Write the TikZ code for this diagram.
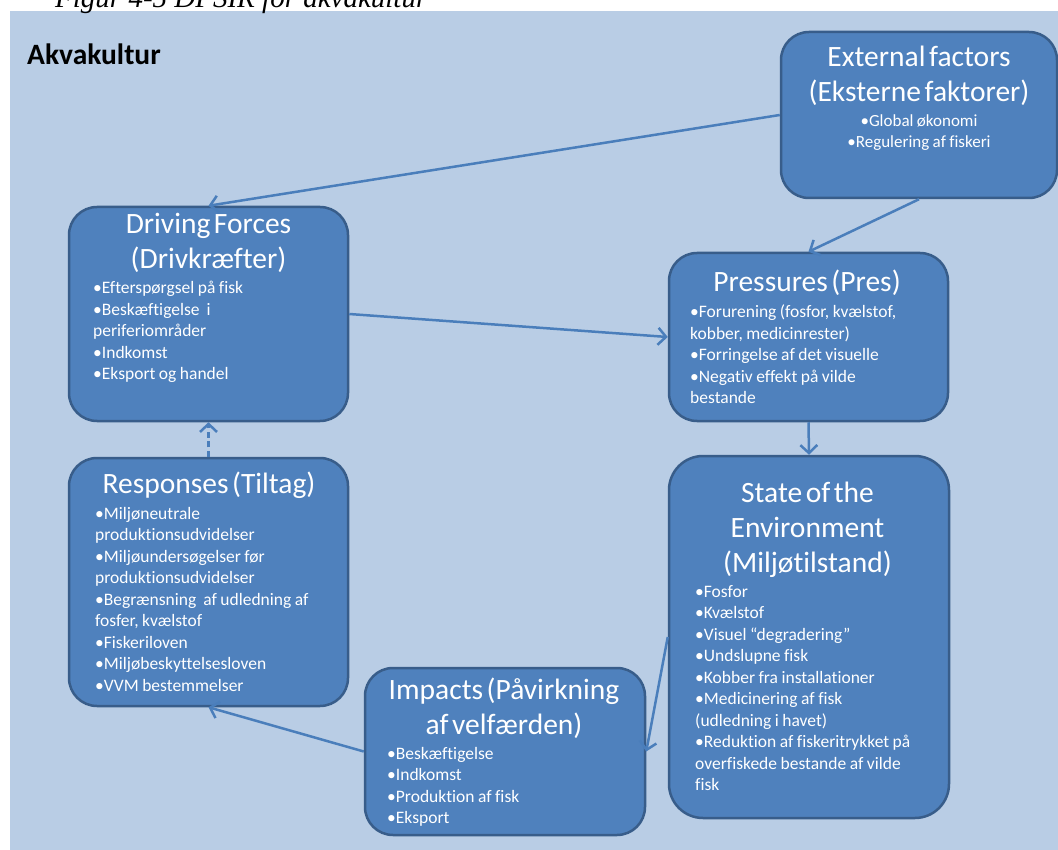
\documentclass[tikz,border=0pt]{standalone}
\usepackage{fontspec}
\setmainfont{Carlito}[Ligatures={NoCommon}]
\newfontfamily\capfont{Liberation Serif}
\usetikzlibrary{arrows.meta}
\definecolor{bgblue}{HTML}{B9CDE5}
\definecolor{boxfill}{HTML}{4F81BD}
\definecolor{boxline}{HTML}{385D8A}
\definecolor{arrowc}{HTML}{4A7EBB}
\begin{document}
\begin{tikzpicture}[x=1pt,y=-1pt,
  box/.style={draw=boxline, line width=2.5pt, fill=boxfill, rounded corners=28pt, inner sep=0pt},
  ttl/.style={text=white, font=\fontsize{29.5}{35}\selectfont, execute at begin node={\spaceskip=0.12em\relax}, align=center, anchor=base, inner sep=0pt, text width=270pt},
  bdy/.style={text=white, font=\fontsize{17.5}{21.5}\selectfont, execute at begin node={\spaceskip=0.2em\relax}, align=left, anchor=base west, inner sep=0pt, text width=265pt},
  bdyc/.style={text=white, font=\fontsize{17}{21}\selectfont, execute at begin node={\spaceskip=0.2em\relax}, align=center, anchor=base, inner sep=0pt, text width=265pt},
  conn/.style={draw=arrowc, line width=2.5pt, -{Straight Barb[length=8pt,width=17pt]}}
]
\useasboundingbox (0,0) rectangle (1058,850);
\fill[white] (0,0) rectangle (1058,850);
\fill[bgblue] (10,11) rectangle (1058,850);
\node[font=\capfont\itshape\fontsize{29}{32}\selectfont, anchor=base west, inner sep=0pt] (cap) at (55,8) {Figur 4-5 DPSIR for akvakultur};
\node[font=\bfseries\fontsize{29.5}{32}\selectfont, anchor=base west, inner sep=0pt] (akva) at (27,65) {Akvakultur};

% boxes
\node[box, minimum width=276pt, minimum height=166pt] (ext) at (919,115) {};
\node[box, minimum width=279pt, minimum height=214pt] (drv) at (208.5,314) {};
\node[box, minimum width=279pt, minimum height=168pt] (prs) at (808.5,337) {};
\node[box, minimum width=280pt, minimum height=362pt, rounded corners=34pt] (ste) at (809,637) {};
\node[box, minimum width=279pt, minimum height=248pt] (rsp) at (208.5,582) {};
\node[box, minimum width=280pt, minimum height=167pt] (imp) at (505,751.5) {};

% texts
\node[ttl] (ext-t) at (919,67) {External factors\\(Eksterne faktorer)};
\node[bdyc] (ext-b) at (919,127) {•Global økonomi\\•Regulering af fiskeri};

\node[ttl] (drv-t) at (208.5,234) {Driving Forces\\(Drivkræfter)};
\node[bdy] (drv-b) at (93,294) {•Efterspørgsel på fisk\\•Beskæftigelse\ \ i\\periferiområder\\•Indkomst\\•Eksport og handel};

\node[ttl] (prs-t) at (807,292) {Pressures (Pres)};
\node[bdy] (prs-b) at (690,318) {•Forurening (fosfor, kvælstof,\\kobber, medicinrester)\\•Forringelse af det visuelle\\•Negativ effekt på vilde\\bestande};

\node[ttl] (ste-t) at (807.5,502) {State of the\\Environment\\(Miljøtilstand)};
\node[bdy] (ste-b) at (695,597) {•Fosfor\\•Kvælstof\\•Visuel “degradering”\\•Undslupne fisk\\•Kobber fra installationer\\•Medicinering af fisk\\(udledning i havet)\\•Reduktion af fiskeritrykket på\\overfiskede bestande af vilde\\fisk};

\node[ttl] (rsp-t) at (209,493) {Responses (Tiltag)};
\node[bdy] (rsp-b) at (95,519) {•Miljøneutrale\\produktionsudvidelser\\•Miljøundersøgelser før\\produktionsudvidelser\\•Begrænsning\ \ af udledning af\\fosfer, kvælstof\\•Fiskeriloven\\•Miljøbeskyttelsesloven\\•VVM bestemmelser};

\node[ttl] (imp-t) at (504,699) {Impacts (Påvirkning\\af velfærden)};
\node[bdy] (imp-b) at (387,759) {•Beskæftigelse\\•Indkomst\\•Produktion af fisk\\•Eksport};

% connectors
\draw[conn] (ext.west) -- (drv.north);
\draw[conn] (ext.south) -- (prs.north);
\draw[conn] (drv.east) -- (prs.west);
\draw[conn] (prs.south) -- (ste.north);
\draw[conn] (ste.west) -- (imp.east);
\draw[conn] (imp.west) -- (rsp.south);
\draw[conn, dash pattern=on 6pt off 3.5pt] (rsp.north) -- (drv.south);
\end{tikzpicture}
\end{document}
